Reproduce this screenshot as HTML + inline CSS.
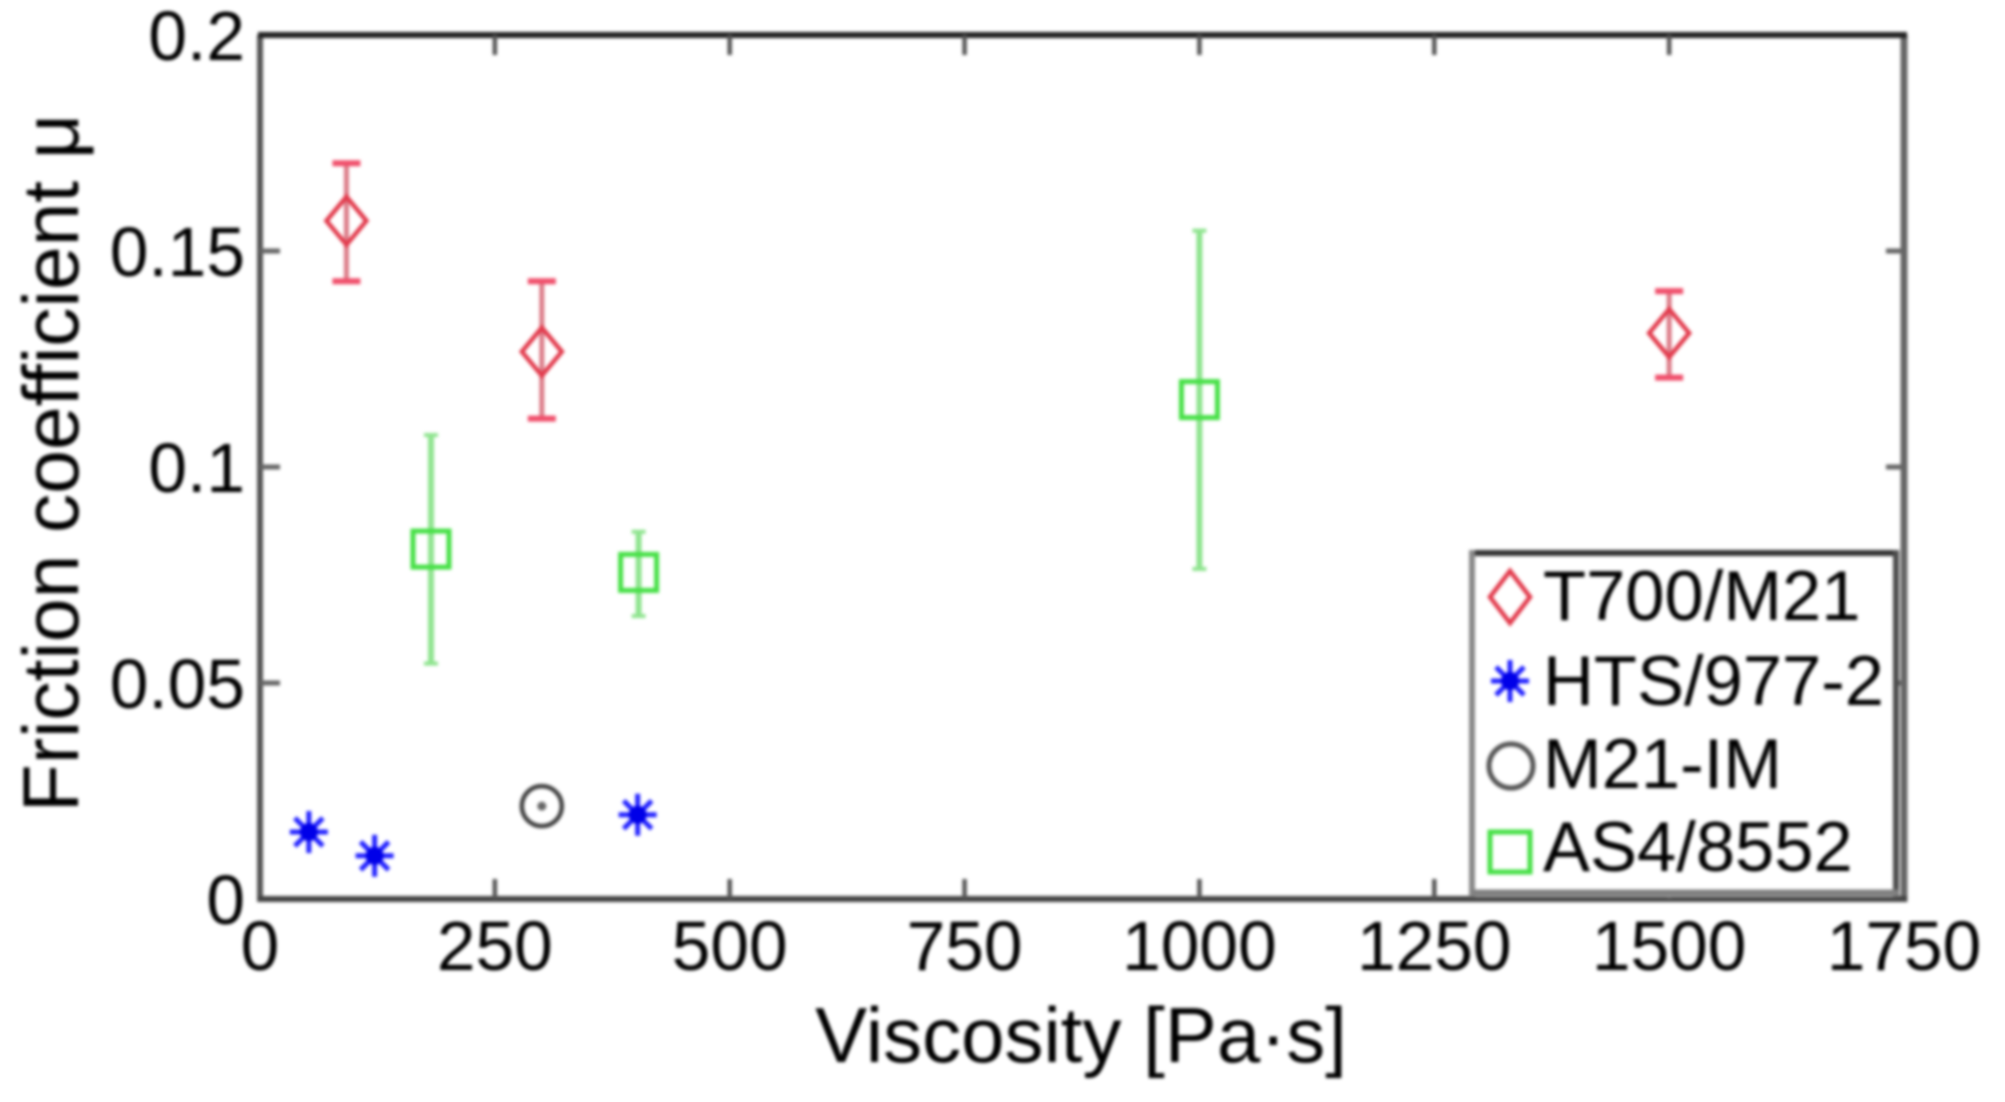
<!DOCTYPE html>
<html lang="en">
<head>
<meta charset="utf-8">
<title>Friction coefficient vs viscosity</title>
<style>
html,body{margin:0;padding:0;background:#fff;width:2005px;height:1102px;overflow:hidden}
#chart{display:block;filter:blur(1.6px)}
text{font-family:"Liberation Sans",sans-serif;fill:#000}
</style>
</head>
<body>
<svg id="chart" width="2005" height="1102" viewBox="0 0 2005 1102" xmlns="http://www.w3.org/2000/svg"></svg>
<script>
const xTickValues = [0, 250, 500, 750, 1000, 1250, 1500, 1750];
const xTickLabels = ['0', '250', '500', '750', '1000', '1250', '1500', '1750'];
const yTickValues = [0, 0.05, 0.1, 0.15, 0.2];
const yTickLabels = ['0', '0.05', '0.1', '0.15', '0.2'];

const t700X = [92, 300, 1500];
const t700Y = [0.157, 0.1267, 0.131];
const t700High = [0.1703, 0.143, 0.1407];
const t700Low = [0.143, 0.1112, 0.1207];

const htsX = [52, 122, 402];
const htsY = [0.0155, 0.0100, 0.0195];

const imX = [300];
const imY = [0.0215];

const as4X = [182, 403, 1000];
const as4Y = [0.081, 0.0756, 0.1156];
const as4High = [0.1074, 0.085, 0.1547];
const as4Low = [0.0545, 0.0655, 0.0764];

const legendLabels = ['T700/M21', 'HTS/977-2', 'M21-IM', 'AS4/8552'];

const svg = document.getElementById('chart');
const NS = 'http://www.w3.org/2000/svg';
const plot = {left: 260, right: 1904, top: 35, bottom: 899};
const xMax = 1750, yMax = 0.2;
const RED = '#e23a4c', BLUE = '#2222ff', GREEN = '#46e046';

function sx(v) { return plot.left + (v / xMax) * (plot.right - plot.left); }
function sy(v) { return plot.bottom - (v / yMax) * (plot.bottom - plot.top); }

function make(tag, attrs, parent) {
  const el = document.createElementNS(NS, tag);
  for (const k in attrs) el.setAttribute(k, attrs[k]);
  (parent || svg).appendChild(el);
  return el;
}
function line(x1, y1, x2, y2, stroke, w, parent) {
  return make('line', {x1: x1, y1: y1, x2: x2, y2: y2, stroke: stroke, 'stroke-width': w}, parent);
}
function diamond(g, cx, cy, hw, hh) {
  make('polygon', {points: [cx - hw, cy, cx, cy - hh, cx + hw, cy, cx, cy + hh].join(' '), fill: 'none', stroke: RED, 'stroke-width': 4.5}, g);
}
function square(g, cx, cy, h) {
  make('rect', {x: cx - h, y: cy - h, width: 2 * h, height: 2 * h, fill: 'none', stroke: GREEN, 'stroke-width': 5}, g);
}
function star(g, cx, cy, s) {
  line(cx, cy - 21 * s, cx, cy + 21 * s, BLUE, 5, g);
  line(cx - 19 * s, cy, cx + 19 * s, cy, BLUE, 5, g);
  line(cx - 14 * s, cy - 14 * s, cx + 14 * s, cy + 14 * s, BLUE, 5, g);
  line(cx - 14 * s, cy + 14 * s, cx + 14 * s, cy - 14 * s, BLUE, 5, g);
  make('circle', {cx: cx, cy: cy, r: 9 * s, fill: '#0000e8'}, g);
}

/* plot frame */
const frame = make('g', {});


line(plot.left, plot.top, plot.left, plot.bottom + 3, '#555', 6, frame);
line(plot.right, plot.top, plot.right, plot.bottom + 3, '#666', 7, frame);
line(plot.left - 2, plot.top, plot.right + 3, plot.top, '#222', 6, frame);
line(plot.left - 2, plot.bottom, plot.right + 3, plot.bottom, '#444', 6, frame);

/* x axis */
const xAxis = make('g', {});


xTickValues.forEach(function (v, i) {
  const x = sx(v);
  if (i > 0 && i < xTickValues.length - 1) {
    const t1 = line(x, plot.bottom, x, plot.bottom - 20, '#555', 4.5, xAxis);
    
    
    const t2 = line(x, plot.top, x, plot.top + 20, '#555', 4.5, xAxis);
    
    
  }
  const lab = make('text', {x: x, y: 970, 'font-size': 69.5, 'text-anchor': 'middle'}, xAxis);
  lab.textContent = xTickLabels[i];
  
  
});

/* y axis */
const yAxis = make('g', {});


yTickValues.forEach(function (v, i) {
  const y = sy(v);
  if (i > 0 && i < yTickValues.length - 1) {
    const t1 = line(plot.left, y, plot.left + 20, y, '#666', 5, yAxis);
    
    
    const t2 = line(plot.right, y, plot.right - 18, y, '#666', 5, yAxis);
    
    
  }
  const lab = make('text', {x: 245, y: y + 25, 'font-size': 69.5, 'text-anchor': 'end'}, yAxis);
  lab.textContent = yTickLabels[i];
  
  
});

/* axis titles */
const xTitle = make('text', {x: 1081, y: 1062, 'font-size': 78, 'text-anchor': 'middle'});
xTitle.textContent = 'Viscosity [Pa·s]';



const yTitle = make('text', {x: 0, y: 0, 'font-size': 78.5, 'text-anchor': 'middle', transform: 'translate(78 463) rotate(-90)'});
yTitle.textContent = 'Friction coefficient μ';



/* T700/M21 */
const t700Group = make('g', {});


t700X.forEach(function (v, i) {
  const x = sx(v);
  line(x, sy(t700High[i]), x, sy(t700Low[i]), '#dc7c88', 5, t700Group);
  line(x - 14, sy(t700High[i]), x + 14, sy(t700High[i]), '#f0506c', 6, t700Group);
  line(x - 14, sy(t700Low[i]), x + 14, sy(t700Low[i]), '#f0506c', 6, t700Group);
  diamond(t700Group, x, sy(t700Y[i]), 20, 24);
});

/* AS4/8552 */
const as4Group = make('g', {});


as4X.forEach(function (v, i) {
  const x = sx(v);
  line(x, sy(as4High[i]), x, sy(as4Low[i]), '#8fe48f', 6, as4Group);
  line(x - 7, sy(as4High[i]), x + 7, sy(as4High[i]), '#8fe48f', 4, as4Group);
  line(x - 7, sy(as4Low[i]), x + 7, sy(as4Low[i]), '#8fe48f', 4, as4Group);
  square(as4Group, x, sy(as4Y[i]), 18);
});

/* HTS/977-2 */
const htsGroup = make('g', {});


htsX.forEach(function (v, i) {
  star(htsGroup, sx(v), sy(htsY[i]), 1);
});

/* M21-IM */
const imGroup = make('g', {});


imX.forEach(function (v, i) {
  make('circle', {cx: sx(v), cy: sy(imY[i]), r: 20, fill: 'none', stroke: '#404040', 'stroke-width': 4.5}, imGroup);
  make('circle', {cx: sx(v), cy: sy(imY[i]), r: 4.5, fill: '#666'}, imGroup);
});

/* legend */
const legend = make('g', {});


make('rect', {x: 1472, y: 552, width: 426, height: 345, fill: '#fff'}, legend);
line(1472, 553, 1898, 553, '#333', 6, legend);
line(1472, 550, 1472, 897, '#888', 6, legend);
line(1896, 550, 1896, 899, '#4c4c4c', 6, legend);
line(1472, 893, 1898, 893, '#808080', 7, legend);

const legendBaselines = [620, 705, 788, 871];
const legendCenters = [597, 681, 766, 852];
legendLabels.forEach(function (name, i) {
  const entry = make('g', {}, legend);
  
  
  const c = legendCenters[i];
  if (i === 0) diamond(entry, 1510, c, 20, 26);
  if (i === 1) star(entry, 1510, c, 1);
  if (i === 2) make('circle', {cx: 1511, cy: c, r: 22, fill: 'none', stroke: '#555', 'stroke-width': 5}, entry);
  if (i === 3) square(entry, 1510, c, 20);
  const t = make('text', {x: 1543, y: legendBaselines[i], 'font-size': 70.5}, entry);
  t.textContent = name;
  
  
});
</script>
</body>
</html>
